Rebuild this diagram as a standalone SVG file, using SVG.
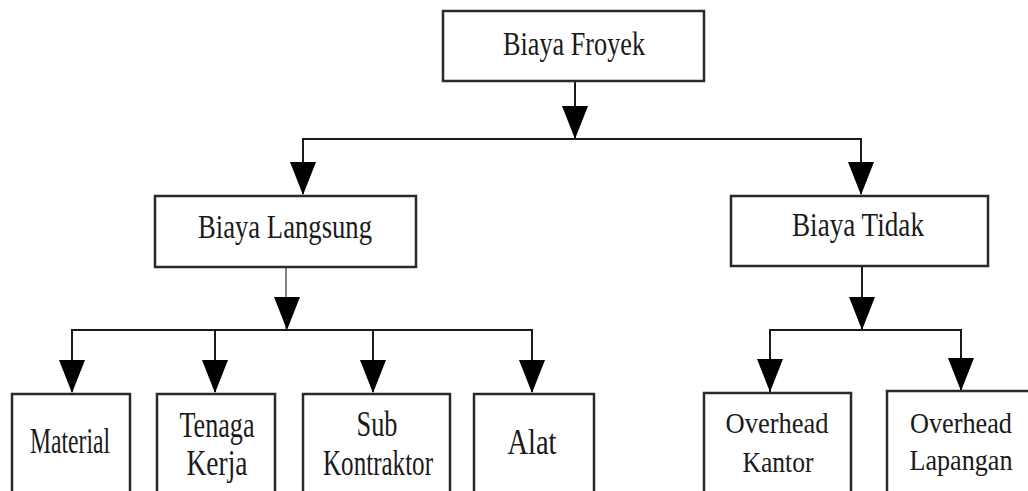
<svg xmlns="http://www.w3.org/2000/svg" xmlns:xlink="http://www.w3.org/1999/xlink" width="1028" height="491" viewBox="0 0 1028 491">
<style>
.box{fill:#fff;stroke:#2a2a2a;stroke-width:2.5}
.ln{fill:none;stroke:#1a1a1a;stroke-width:2}
.thin{fill:none;stroke:#333;stroke-width:1.2}
.t{font-family:"Liberation Serif","Times New Roman",serif;fill:#1a1a1a;text-anchor:middle}
.h{font-size:33px}
.l{font-size:35px}
.r{font-size:30px}
</style>
<defs>
<path id="ah" d="M-13,-33 L13,-33 L0,0 Z" fill="#000"/>
</defs>
<rect width="1028" height="491" fill="#fff"/>
<g id="connectors">
<line class="ln" x1="575" y1="81" x2="575" y2="139"/>
<use xlink:href="#ah" x="575" y="139"/>
<polyline class="ln" points="303,194 303,139 861,139 861,194"/>
<use xlink:href="#ah" x="303" y="195"/>
<use xlink:href="#ah" x="861" y="195"/>
<line class="thin" x1="286" y1="267" x2="286" y2="330"/>
<use xlink:href="#ah" x="287" y="330"/>
<polyline class="ln" points="72,392 72,330 532,330 532,392"/>
<line class="ln" x1="215" y1="330" x2="215" y2="392"/>
<line class="ln" x1="373" y1="330" x2="373" y2="392"/>
<use xlink:href="#ah" x="72" y="393"/>
<use xlink:href="#ah" x="215" y="393"/>
<use xlink:href="#ah" x="373" y="393"/>
<use xlink:href="#ah" x="532" y="393"/>
<line class="ln" x1="862" y1="266" x2="862" y2="330"/>
<use xlink:href="#ah" x="862" y="330"/>
<polyline class="ln" points="770,392 770,330 961,330 961,392"/>
<use xlink:href="#ah" x="770" y="392"/>
<use xlink:href="#ah" x="961" y="391"/>
</g>
<g id="n-proyek">
<rect class="box" x="443" y="11" width="261" height="70"/>
<text class="t h" x="574" y="55" textLength="142" lengthAdjust="spacingAndGlyphs">Biaya Froyek</text>
</g>
<g id="n-langsung">
<rect class="box" x="155" y="196" width="261" height="71"/>
<text class="t h" x="285" y="238" textLength="174" lengthAdjust="spacingAndGlyphs">Biaya Langsung</text>
</g>
<g id="n-tidak">
<rect class="box" x="731" y="196" width="257" height="70"/>
<text class="t h" x="858" y="236" textLength="132" lengthAdjust="spacingAndGlyphs">Biaya Tidak</text>
</g>
<g id="n-material">
<rect class="box" x="12" y="394" width="118" height="104"/>
<text class="t l" x="70" y="453" textLength="80" lengthAdjust="spacingAndGlyphs">Material</text>
</g>
<g id="n-tenaga">
<rect class="box" x="157" y="394" width="118" height="104"/>
<text class="t l" x="217" y="437" textLength="75" lengthAdjust="spacingAndGlyphs">Tenaga</text>
<text class="t l" x="217" y="475" textLength="61" lengthAdjust="spacingAndGlyphs">Kerja</text>
</g>
<g id="n-sub">
<rect class="box" x="303" y="394" width="147" height="104"/>
<text class="t l" x="377" y="436" textLength="41" lengthAdjust="spacingAndGlyphs">Sub</text>
<text class="t l" x="378" y="475" textLength="110" lengthAdjust="spacingAndGlyphs">Kontraktor</text>
</g>
<g id="n-alat">
<rect class="box" x="474" y="394" width="120" height="104"/>
<text class="t l" x="532" y="454" textLength="49" lengthAdjust="spacingAndGlyphs">Alat</text>
</g>
<g id="n-kantor">
<rect class="box" x="704" y="393" width="147" height="105"/>
<text class="t r" x="777" y="433" textLength="103" lengthAdjust="spacingAndGlyphs">Overhead</text>
<text class="t r" x="778" y="472" textLength="71" lengthAdjust="spacingAndGlyphs">Kantor</text>
</g>
<g id="n-lapangan">
<rect class="box" x="887" y="391" width="150" height="107"/>
<text class="t r" x="961" y="433" textLength="102" lengthAdjust="spacingAndGlyphs">Overhead</text>
<text class="t r" x="961" y="470" textLength="103" lengthAdjust="spacingAndGlyphs">Lapangan</text>
</g>
</svg>
